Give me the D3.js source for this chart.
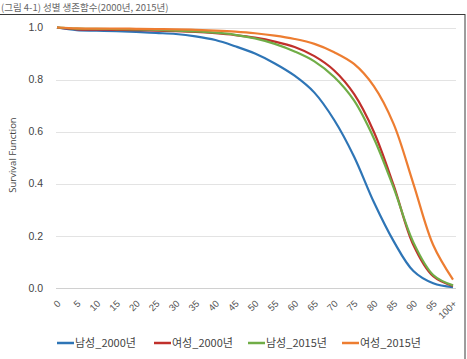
<!DOCTYPE html>
<html>
<head>
<meta charset="utf-8">
<script src="https://cdn.jsdelivr.net/npm/d3@7"></script>
<style>
  body { margin: 0; background: #fff; }
  svg { display: block; }
</style>
</head>
<body>
<div id="chart"></div>
<script>
// ages (category axis) and their labels
var ages = [0, 5, 10, 15, 20, 25, 30, 35, 40, 45, 50, 55, 60, 65, 70, 75, 80, 85, 90, 95, 100]
var ageLabels = ["0", "5", "10", "15", "20", "25", "30", "35", "40", "45", "50",
  "55", "60", "65", "70", "75", "80", "85", "90", "95", "100+"]

// survival function values
var male2000 = [1.000, 0.990, 0.988, 0.986, 0.983, 0.979, 0.975, 0.966, 0.952, 0.928, 0.900,
  0.862, 0.815, 0.750, 0.645, 0.505, 0.330, 0.180, 0.065, 0.018, 0.003]
var female2000 = [1.000, 0.993, 0.992, 0.991, 0.990, 0.988, 0.986, 0.983, 0.978, 0.971, 0.961,
  0.946, 0.925, 0.890, 0.835, 0.745, 0.600, 0.395, 0.165, 0.045, 0.008]
var male2015 = [1.000, 0.996, 0.995, 0.994, 0.993, 0.991, 0.988, 0.985, 0.980, 0.972, 0.958,
  0.937, 0.908, 0.870, 0.810, 0.720, 0.575, 0.385, 0.175, 0.050, 0.010]
var female2015 = [1.000, 0.997, 0.996, 0.996, 0.995, 0.994, 0.993, 0.991, 0.988, 0.984, 0.978,
  0.969, 0.956, 0.937, 0.905, 0.860, 0.775, 0.630, 0.400, 0.165, 0.032]

var seriesNames = ["남성_2000년", "여성_2000년", "남성_2015년", "여성_2015년"]
var seriesColors = ["#2e75b6", "#c0302b", "#70ad47", "#ed7d31"]
var seriesData = [male2000, female2000, male2015, female2015]

var yTicks = [0, 0.2, 0.4, 0.6, 0.8, 1.0]

var width = 467, height = 359

var svg = d3.select("#chart")
  .append("svg")
  .attr("width", width)
  .attr("height", height)

// caption above the frame
svg.append("text")
  .attr("x", 1)
  .attr("y", 10.5)
  .style("font-family", "'Noto Sans CJK KR', sans-serif")
  .style("font-size", "9.5px")
  .style("fill", "#666")
  .text("(그림 4-1) 성별 생존함수(2000년, 2015년)")

// frame
svg.append("rect")
  .attr("x", -2)
  .attr("y", 14.5)
  .attr("width", 467)
  .attr("height", 360)
  .style("fill", "#fff")
  .style("stroke", "#3a3a3a")
  .style("stroke-width", 1)

var x = d3.scaleLinear()
  .domain([0, 100])
  .range([57, 453])

var y = d3.scaleLinear()
  .domain([0, 1])
  .range([288, 27.5])

// grid lines
svg.append("g")
  .selectAll("line")
  .data(yTicks)
  .enter()
  .append("line")
  .attr("x1", 56)
  .attr("x2", 456)
  .attr("y1", function (d) { return Math.round(y(d)) + 0.5; })
  .attr("y2", function (d) { return Math.round(y(d)) + 0.5; })
  .style("stroke", function (d) { return d == 0 ? "#d0d0d0" : "#e3e3e3"; })
  .style("stroke-width", 1)

// y tick labels
svg.append("g")
  .selectAll("text")
  .data(yTicks)
  .enter()
  .append("text")
  .attr("x", 43)
  .attr("y", function (d) { return y(d); })
  .attr("dy", "0.35em")
  .attr("text-anchor", "end")
  .style("font-family", "'Liberation Sans', sans-serif")
  .style("font-size", "10.5px")
  .style("fill", "#444")
  .text(function (d) { return d3.format(".1f")(d); })

// y axis title
svg.append("text")
  .attr("transform", "translate(16,155) rotate(-90)")
  .attr("text-anchor", "middle")
  .style("font-family", "'Open Sans', sans-serif")
  .style("font-size", "9.5px")
  .style("fill", "#444")
  .text("Survival Function")

// x tick labels, rotated
svg.append("g")
  .selectAll("text")
  .data(ages)
  .enter()
  .append("text")
  .attr("transform", function (d) {
    return "translate(" + (x(d) + 2) + ",302) rotate(-45)";
  })
  .attr("dy", "0.35em")
  .attr("text-anchor", "end")
  .style("font-family", "'Liberation Sans', sans-serif")
  .style("font-size", "9.5px")
  .style("fill", "#555")
  .text(function (d, i) { return ageLabels[i]; })

// lines
var line = d3.line()
  .x(function (d, i) { return x(ages[i]); })
  .y(function (d) { return y(d); })
  .curve(d3.curveCatmullRom.alpha(0.5))

svg.append("g")
  .selectAll("path")
  .data(seriesData)
  .enter()
  .append("path")
  .attr("d", line)
  .style("fill", "none")
  .style("stroke", function (d, i) { return seriesColors[i]; })
  .style("stroke-width", 2.2)

// legend
var legendX = [57, 154, 248, 342]
var legend = svg.append("g")
  .selectAll("g")
  .data(seriesNames)
  .enter()
  .append("g")
  .attr("transform", function (d, i) { return "translate(" + legendX[i] + ",343)"; })

legend.append("line")
  .attr("x1", 0)
  .attr("x2", 17)
  .style("stroke", function (d, i) { return seriesColors[i]; })
  .style("stroke-width", 2.5)

legend.append("text")
  .attr("x", 18)
  .attr("dy", "0.35em")
  .style("font-family", "'Noto Sans CJK KR', sans-serif")
  .style("font-size", "11px")
  .style("fill", "#444")
  .text(function (d) { return d; })
</script>
</body>
</html>
